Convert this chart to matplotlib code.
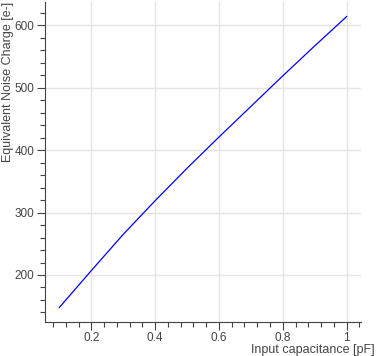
import matplotlib
matplotlib.use("Agg")
import matplotlib.pyplot as plt
from matplotlib.ticker import MultipleLocator, FuncFormatter

# input capacitance [pF] and equivalent noise charge [e-]
capacitance = [0.1, 0.2, 0.3, 0.4, 0.5, 0.6, 0.7, 0.8, 0.9, 1.0]
enc = [148, 207, 265, 319, 371, 421, 470, 519, 567, 614]

plt.rcParams['font.family'] = ['Liberation Sans', 'DejaVu Sans']

fig = plt.figure(figsize=(3.81, 3.56), dpi=100)
W, H = 381, 356
ax = fig.add_axes([45 / W, 34 / H, 316 / W, 320 / H])

ax.plot(capacitance, enc, color='#0000ff', lw=0.9)

# 5% range padding like the original
xr = max(capacitance) - min(capacitance)
yr = max(enc) - min(enc)
ax.set_xlim(min(capacitance) - 0.05 * xr, max(capacitance) + 0.05 * xr)
ax.set_ylim(min(enc) - 0.05 * yr, max(enc) + 0.05 * yr)

ax.xaxis.set_major_locator(MultipleLocator(0.2))
ax.xaxis.set_minor_locator(MultipleLocator(0.04))
ax.yaxis.set_major_locator(MultipleLocator(100))
ax.yaxis.set_minor_locator(MultipleLocator(20))
ax.xaxis.set_major_formatter(FuncFormatter(lambda v, p: f"{v:g}"))

ax.grid(True, which='major', color='#e5e5e5', lw=1)
ax.set_axisbelow(True)
for s in ['top', 'right']:
    ax.spines[s].set_visible(False)
for s in ['left', 'bottom']:
    ax.spines[s].set_color('#444444')
    ax.spines[s].set_linewidth(0.8)

ax.tick_params(which='major', length=6, width=0.8, color='#444444',
               labelsize=8.5, labelcolor='#444444', pad=1.5)
ax.tick_params(which='minor', length=3.5, width=0.8, color='#444444')

ax.set_xlabel('Input capacitance [pF]', loc='right', fontsize=9,
              color='#444444')
ax.set_ylabel('Equivalent Noise Charge [e-]', loc='top', fontsize=9,
              color='#444444')
ax.xaxis.set_label_coords(1.044, -0.068)
ax.yaxis.set_label_coords(-0.098, 1.0)

fig.savefig('out.png', dpi=100)
